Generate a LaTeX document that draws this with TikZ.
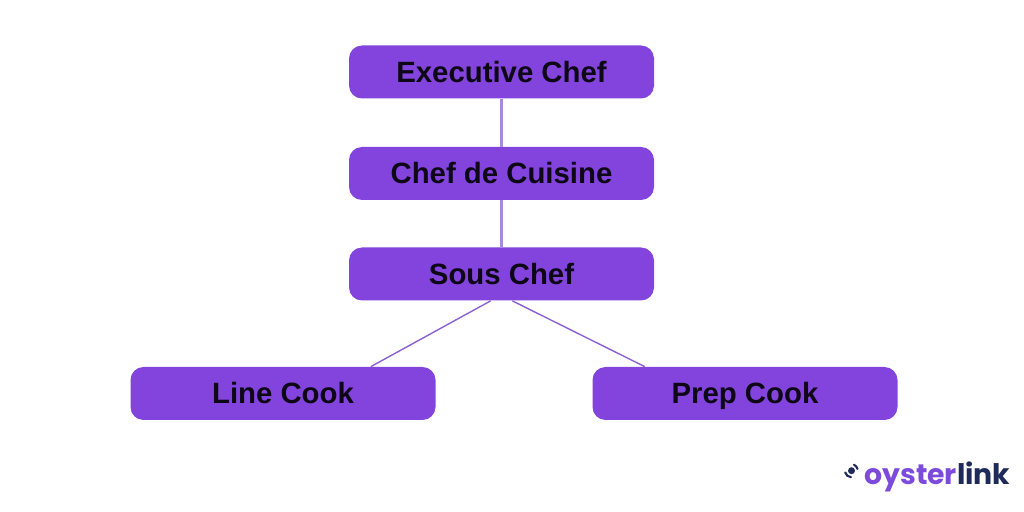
\documentclass[tikz,border=0pt]{standalone}
\usepackage{fontspec}
\setmainfont{Liberation Sans}
\newfontfamily\logofont{Poppins}
\definecolor{rolepurple}{HTML}{8244DC}
\definecolor{linkpurple}{HTML}{8C62D2}
\definecolor{logonavy}{HTML}{1E2A5A}
\definecolor{logopurple}{HTML}{7C4BDC}
\tikzset{
    role/.style = {fill = rolepurple, rounded corners = 0.26cm, minimum width = 6.1cm, minimum height = 1.06cm,
        text = black!90!rolepurple, text height = 0.42cm, text depth = 0cm,
        font = \fontsize{16.7}{20}\selectfont\bfseries},
    link/.style = {draw = linkpurple, line width = 0.8pt},
    uplink/.style = {link, draw = linkpurple!75, line width = 1.3pt}
}
\begin{document}
\begin{tikzpicture}
    \useasboundingbox (0,0) rectangle (20.48,10.24);
    \fill[white] (0,0) rectangle (20.48,10.24);
    \node[role] (executive) at (10.03,8.8) {Executive Chef};
    \node[role] (cuisine) at (10.03,6.77) {Chef de Cuisine};
    \node[role] (sous) at (10.03,4.76) {Sous Chef};
    \node[role] (line) at (5.66,2.37) {Line Cook};
    \node[role] (prep) at (14.9,2.37) {Prep Cook};
    \draw[uplink] (executive) -- (cuisine);
    \draw[uplink] (cuisine) -- (sous);
    \draw[link] (sous.248) -- (line.17.8);
    \draw[link] (sous.292) -- (prep.165.2);
    % logo
    \node[inner sep = 0pt, anchor = base west, font = \logofont\fontsize{16.1}{20}\selectfont\bfseries] (logotext) at (17.28,0.55)
        {\textcolor{logopurple}{oyster}\textcolor{logonavy}{link}};
    \fill[logonavy] (17.03,0.826) circle (0.07);
    \draw[logonavy, line width = 1.2pt, line cap = round] (17.08,0.945) arc (65:15:0.13);
    \draw[logonavy, line width = 1.2pt, line cap = round] (16.904,0.792) arc (195:265:0.13);
\end{tikzpicture}
\end{document}
